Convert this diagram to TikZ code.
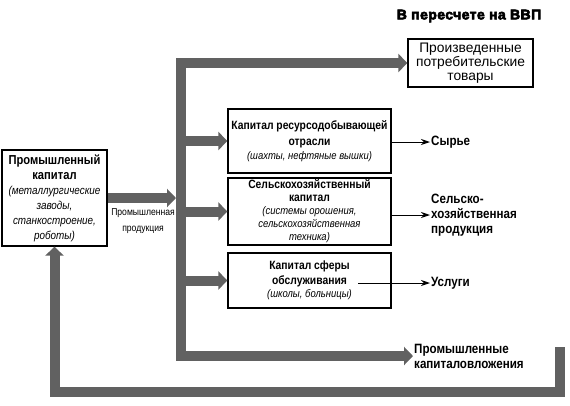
\documentclass[tikz,border=0pt]{standalone}
\usepackage{fontspec}
\setmainfont{Liberation Sans}
\newfontfamily\narrowfont[FakeStretch=0.86]{Liberation Sans}
\newfontfamily\heavyfont[FakeBold=4,LetterSpace=3]{Liberation Sans Bold}
\usetikzlibrary{arrows.meta}

\begin{document}
\begin{tikzpicture}[x=1pt,y={(0pt,-1pt)},
    box/.style={draw=black,line width=1.3pt,align=center,inner sep=2pt},
    captext/.style={font=\narrowfont\bfseries\fontsize{12}{13}\selectfont},
    sub/.style={font=\narrowfont\bfseries\fontsize{13.5}{15}\selectfont,align=left,inner sep=1pt},
    bigarrow/.style={line width=10pt,draw=black!62,line join=miter,-{Triangle[length=9pt,width=18pt]}},
    thinarrow/.style={line width=1pt,-{Stealth[length=9pt,width=6pt]}}]
    \useasboundingbox (0,0) rectangle (570,405);
    \node[font=\heavyfont\fontsize{14}{15}\selectfont] (title) at (469,16) {В пересчете на ВВП};
    \node[box,minimum width=125,minimum height=48,font=\fontsize{13.8}{14}\selectfont] (goods) at (470.5,63) {Произведенные\\потребительские\\товары};
    \node[box,minimum width=105,minimum height=96,font=\narrowfont\bfseries\fontsize{13}{15}\selectfont] (ind) at (54.5,198)
        {Промышленный\\капитал\\{\mdseries\itshape\fontsize{11.5}{13}\selectfont (металлургические}\\{\mdseries\itshape\fontsize{11.5}{13}\selectfont заводы,}\\{\mdseries\itshape\fontsize{11.5}{13}\selectfont станкостроение,}\\{\mdseries\itshape\fontsize{11.5}{13}\selectfont роботы)}};
    \node[box,captext,minimum width=163,minimum height=64] (res) at (309.5,141)
        {Капитал ресурсодобывающей\\[3pt]отрасли\\[1pt]{\mdseries\itshape\fontsize{11}{13}\selectfont (шахты, нефтяные вышки)}};
    \node[box,captext,minimum width=163,minimum height=65] (agr) at (309.5,211.5)
        {Сельскохозяйственный\\капитал\\{\mdseries\itshape\fontsize{11}{12}\selectfont (системы орошения,}\\{\mdseries\itshape\fontsize{11}{12}\selectfont сельскохозяйственная}\\{\mdseries\itshape\fontsize{11}{12}\selectfont техника)}};
    \node[box,captext,minimum width=163,minimum height=55] (srv) at (309.5,280.5)
        {Капитал сферы\\[2pt]обслуживания\\{\mdseries\itshape\fontsize{11}{13}\selectfont (школы, больницы)}};
    \node[sub,anchor=west] (raw) at (430,142) {Сырье};
    \node[sub,anchor=west] (food) at (430,215) {Сельско-\\хозяйственная\\продукция};
    \node[sub,anchor=west] (serv) at (430,283) {Услуги};
    \node[sub,anchor=west] (inv) at (413,356) {Промышленные\\капиталовложения};
    \node[font=\narrowfont\fontsize{10}{16}\selectfont,align=center] (prod) at (143,221) {Промышленная\\продукция};
    \coordinate (trunk) at (181,63);
    \coordinate (back) at (560,347);
    \draw[bigarrow] (ind.east) -- (176,198);
    \draw[bigarrow] (181,357) |- (goods.west);
    \draw[bigarrow] (trunk) |- (inv.west);
    \draw[bigarrow] (trunk |- res.west) -- (res.west);
    \draw[bigarrow] (trunk |- agr.west) -- (agr.west);
    \draw[bigarrow] (trunk |- srv.west) -- (srv.west);
    \draw[bigarrow] (back) |- (54.5,392) -- (ind.south);
    \draw[thinarrow] (res.east |- raw.west) -- (raw.west);
    \draw[thinarrow] (agr.east |- food.west) -- (food.west);
    \draw[thinarrow] (358,283) -- (serv.west);
\end{tikzpicture}
\end{document}
